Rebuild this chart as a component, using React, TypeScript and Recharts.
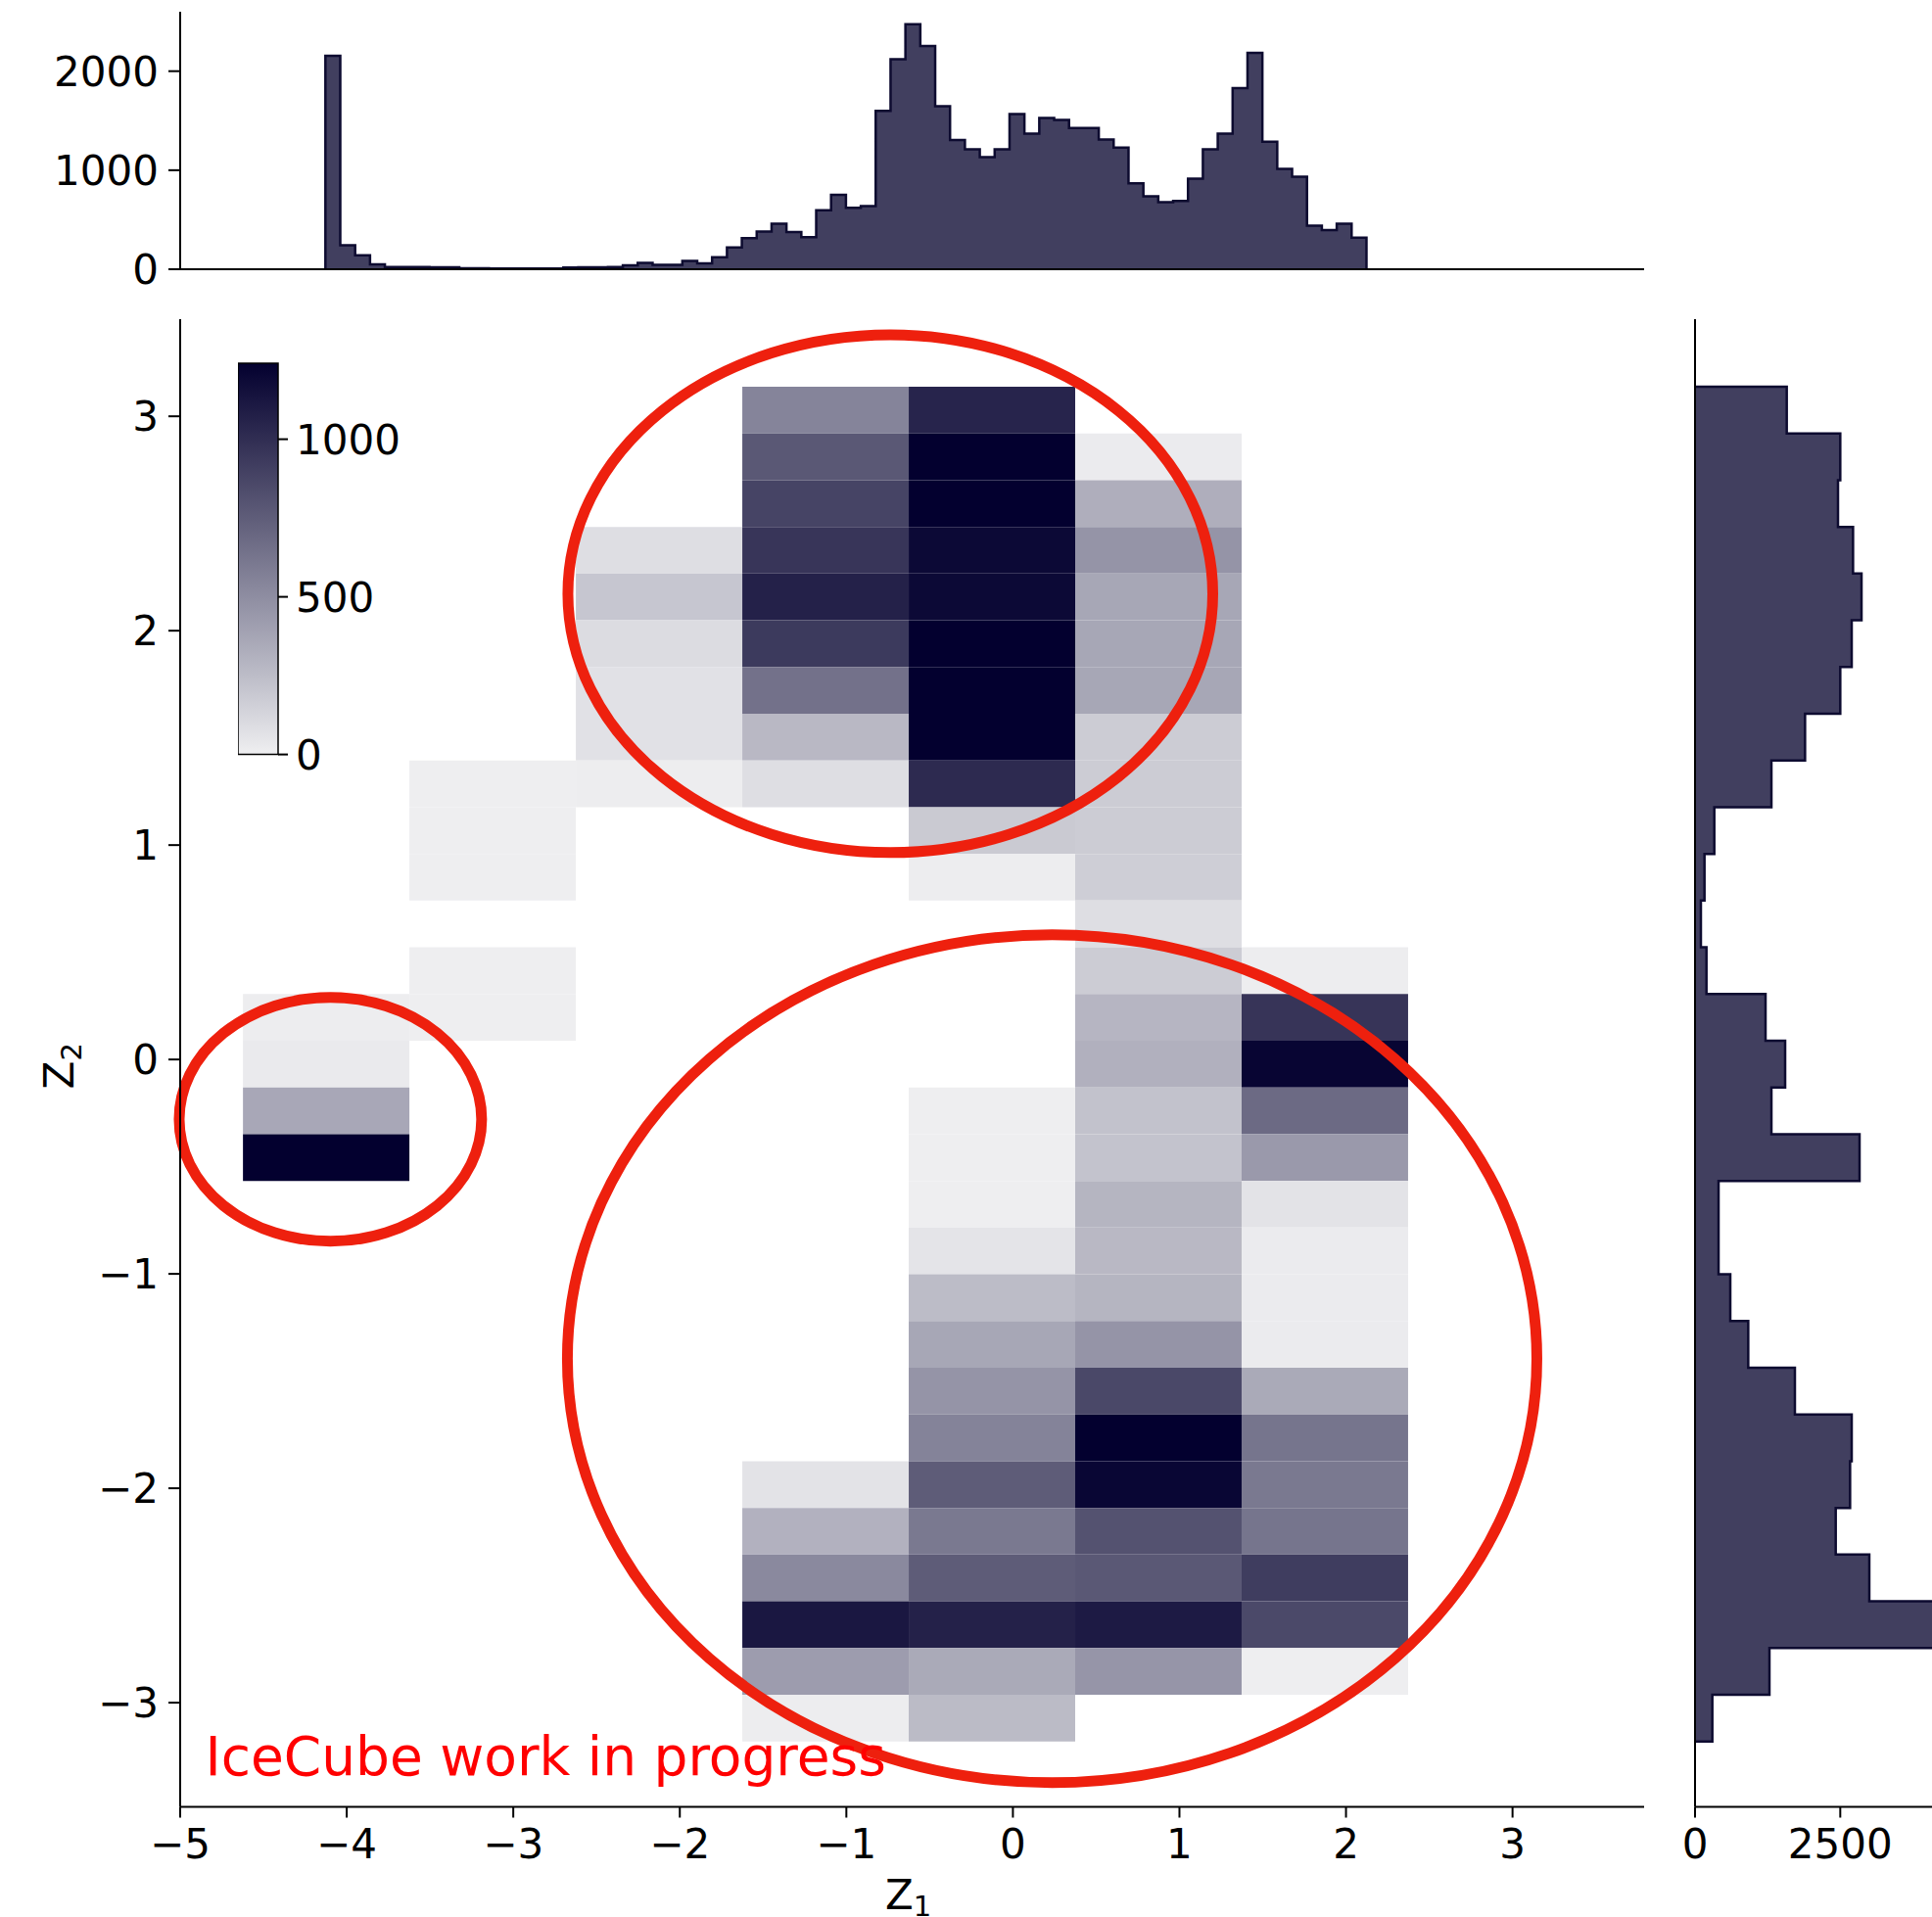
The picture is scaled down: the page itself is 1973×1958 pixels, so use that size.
import React from "react";
import { ComposedChart, Area, XAxis, YAxis, ReferenceArea, ReferenceDot } from "recharts";

const FONT = "DejaVu Sans";
const INK = "#000000";
const HIST_FILL = "#413f5f";
const HIST_EDGE = "#0d0b30";
const RED_RING = "#ee200e";
const RED_TEXT = "#ff0000";

// top marginal of z1 (70 equal bins)
const TOP_BIN_START = -4.128;
const TOP_BIN_WIDTH = 0.0893;
const topCounts = [
  2155, 241, 142, 50, 23, 23, 23, 20, 20, 10,
  10, 8, 8, 8, 8, 8, 18, 20, 20, 22,
  40, 65, 45, 45, 85, 60, 120, 220, 315, 380,
  460, 375, 325, 595, 752, 620, 637, 1600, 2120, 2475,
  2255, 1645, 1305, 1210, 1132, 1211, 1568, 1370, 1528, 1508,
  1426, 1426, 1310, 1228, 868, 736, 677, 690, 914, 1211,
  1370, 1828, 2185, 1287, 1013, 934, 439, 396, 459, 320,
];

// z2 rows, shared by the heatmap and the right marginal, listed top -> bottom
const ROW_TOP = 3.138;
const ROW_HEIGHT = 0.2179;
const rightCounts = [
  1579, 2500, 2461, 2720, 2866, 2697, 2500, 1894, 1315, 332,
  163, 101, 197, 1214, 1551, 1315, 2832, 405, 405, 607,
  916, 1719, 2697, 2669, 2422, 3000, 4400, 1281, 298,
];

// heatmap columns in z1
const COL_START = -4.623;
const COL_WIDTH = 0.9994;
const heatCol0 = [0, 0, 0, 0, 0, 0, 0, 0, 0, 0, 0, 0, 0, 10, 25, 362, 1300, 0, 0, 0, 0, 0, 0, 0, 0, 0, 0, 0, 0];
const heatCol1 = [0, 0, 0, 0, 0, 0, 0, 0, 5, 5, 5, 0, 5, 5, 0, 0, 0, 0, 0, 0, 0, 0, 0, 0, 0, 0, 0, 0, 0];
const heatCol2 = [0, 0, 0, 85, 202, 96, 69, 69, 10, 0, 0, 0, 0, 0, 0, 0, 0, 0, 0, 0, 0, 0, 0, 0, 0, 0, 0, 0, 0];
const heatCol3 = [548, 778, 884, 959, 1065, 937, 644, 272, 85, 0, 0, 0, 0, 0, 0, 0, 0, 0, 0, 0, 0, 0, 0, 58, 309, 522, 1118, 421, 10];
const heatCol4 = [1049, 1300, 1300, 1193, 1193, 1300, 1300, 1300, 1017, 186, 10, 0, 0, 0, 0, 5, 5, 5, 53, 256, 367, 463, 554, 756, 607, 756, 1065, 351, 261];
const heatCol5 = [0, 20, 325, 463, 367, 367, 367, 176, 176, 176, 165, 85, 176, 288, 315, 224, 220, 293, 272, 293, 463, 863, 1300, 1209, 810, 778, 1102, 458, 0];
const heatCol6 = [0, 0, 0, 0, 0, 0, 0, 0, 0, 0, 0, 0, 10, 964, 1215, 682, 437, 58, 20, 20, 20, 351, 628, 607, 628, 921, 858, 5, 0];
const heatCols = [heatCol0, heatCol1, heatCol2, heatCol3, heatCol4, heatCol5, heatCol6];

const z1Ticks = [-5, -4, -3, -2, -1, 0, 1, 2, 3];
const z2Ticks = [-3, -2, -1, 0, 1, 2, 3];
const topHistTicks = [0, 1000, 2000];
const rightHistTicks = [0, 2500];
const cbarTicks = [0, 500, 1000];
const CBAR_MAX = 1241;

const Z1_DOMAIN: [number, number] = [-5.0, 3.79];
const Z2_DOMAIN: [number, number] = [-3.486, 3.453];

// hand-drawn red rings, as z-ranges of their bounding boxes
const rings = [
  { z1: [-2.672, 1.2], z2: [0.965, 3.38] },
  { z1: [-5.006, -3.19], z2: [-0.848, 0.289] },
  { z1: [-2.675, 3.146], z2: [-3.373, 0.582] },
];
const NOTE = "IceCube work in progress";
const NOTE_AT = { z1: -4.85, z2: -3.337 };

const cmapStops: [number, string][] = [
  [0, "#efeff1"],
  [0.2, "#bdbdc8"],
  [0.4, "#8f8ea2"],
  [0.6, "#605e7a"],
  [0.8, "#322f54"],
  [1, "#03002f"],
];

const hexRgb = (h: string) => [1, 3, 5].map((i) => parseInt(h.slice(i, i + 2), 16));

function cmap(n: number) {
  const t = Math.max(0, Math.min(1, n / CBAR_MAX));
  for (let i = 1; i < cmapStops.length; i++) {
    const [t0, c0] = cmapStops[i - 1];
    const [t1, c1] = cmapStops[i];
    if (t <= t1) {
      const f = (t - t0) / (t1 - t0);
      const a = hexRgb(c0);
      const b = hexRgb(c1);
      const c = a.map((v, k) => Math.round(v + (b[k] - v) * f));
      return `rgb(${c[0]},${c[1]},${c[2]})`;
    }
  }
  return cmapStops[cmapStops.length - 1][1];
}

const fmt = (v: number) => (v < 0 ? `\u2212${-v}` : `${v}`);
const tickStyle = { fontSize: 42, fill: INK, fontFamily: FONT };
const lineStyle = { stroke: INK, strokeWidth: 2 };

const topData = [
  { z1: TOP_BIN_START, n: 0 },
  ...topCounts.map((n, i) => ({ z1: TOP_BIN_START + i * TOP_BIN_WIDTH, n })),
  { z1: TOP_BIN_START + topCounts.length * TOP_BIN_WIDTH, n: 0 },
];

const rightData = [
  { z2: ROW_TOP, n: 0 },
  ...rightCounts.map((n, i) => ({ z2: ROW_TOP - i * ROW_HEIGHT, n })),
  { z2: ROW_TOP - rightCounts.length * ROW_HEIGHT, n: 0 },
];

const cells = heatCols.flatMap((col, c) =>
  col.map((n, r) => ({ n, c, r })).filter((d) => d.n > 0)
);

function XLabel(props: any) {
  const vb = props.viewBox ?? { x: 184, y: 1545.5, width: 1495, height: 112.5 };
  return (
    <text x={vb.x + vb.width / 2 - 4} y={vb.y + 104} textAnchor="middle" fontFamily={FONT} fontSize={42} fill={INK}>
      Z<tspan fontSize={29} dy={7}>1</tspan>
    </text>
  );
}

function YLabel(props: any) {
  const vb = props.viewBox ?? { x: 0, y: 26, width: 184, height: 1519.5 };
  const cy = vb.y + vb.height / 2 + 3;
  return (
    <text x={75} y={cy} transform={`rotate(-90 75 ${cy})`} textAnchor="middle" fontFamily={FONT} fontSize={42} fill={INK}>
      Z<tspan fontSize={29} dy={8}>2</tspan>
    </text>
  );
}

export default function App() {
  return (
    <div style={{ position: "absolute", left: 0, top: 0, width: 1973, height: 1958, overflow: "hidden", background: "#fff" }}>
      {/* top marginal */}
      <div style={{ position: "absolute", left: 0, top: 0 }}>
        <ComposedChart width={1973} height={305} data={topData} margin={{ top: 12, right: 294, bottom: 0, left: 0 }}>
          <XAxis type="number" dataKey="z1" domain={Z1_DOMAIN} ticks={z1Ticks} tick={false} tickSize={11}
            height={30} axisLine={lineStyle} tickLine={lineStyle} interval={0} allowDataOverflow />
          <YAxis type="number" domain={[0, 2600]} ticks={topHistTicks} width={184} tick={tickStyle} tickSize={12}
            tickMargin={10} axisLine={lineStyle} tickLine={lineStyle} interval={0} allowDataOverflow />
          <Area type="stepAfter" dataKey="n" stroke={HIST_EDGE} strokeWidth={2.5} fill={HIST_FILL} fillOpacity={1}
            dot={false} activeDot={false} isAnimationActive={false} />
        </ComposedChart>
      </div>

      {/* joint histogram */}
      <div style={{ position: "absolute", left: 0, top: 300 }}>
        <ComposedChart width={1973} height={1658} margin={{ top: 26, right: 294, bottom: 0, left: 0 }}>
          <XAxis type="number" dataKey="z1" domain={Z1_DOMAIN} ticks={z1Ticks} tickFormatter={fmt} tick={tickStyle}
            tickSize={11} tickMargin={12} height={112.5} axisLine={lineStyle} tickLine={lineStyle} interval={0}
            allowDataOverflow label={XLabel} />
          <YAxis type="number" dataKey="z2" domain={Z2_DOMAIN} ticks={z2Ticks} tickFormatter={fmt} tick={tickStyle}
            tickSize={12} tickMargin={10} width={184} axisLine={lineStyle} tickLine={lineStyle} interval={0}
            allowDataOverflow label={YLabel} />
          {cells.map((d) => (
            <ReferenceArea key={`c${d.c}-${d.r}`}
              x1={COL_START + d.c * COL_WIDTH} x2={COL_START + (d.c + 1) * COL_WIDTH}
              y1={ROW_TOP - (d.r + 1) * ROW_HEIGHT} y2={ROW_TOP - d.r * ROW_HEIGHT}
              fill={cmap(d.n)} fillOpacity={1} stroke="none" />
          ))}
          <ReferenceDot x={NOTE_AT.z1} y={NOTE_AT.z2} r={0}
            shape={(p: any) => (
              <text x={p.cx} y={p.cy} fontFamily={FONT} fontSize={55} fill={RED_TEXT}>{NOTE}</text>
            )} />
          {rings.map((e, i) => (
            <ReferenceArea key={`ring${i}`} x1={e.z1[0]} x2={e.z1[1]} y1={e.z2[0]} y2={e.z2[1]} ifOverflow="visible"
              shape={(p: any) => (
                <ellipse cx={p.x + p.width / 2} cy={p.y + p.height / 2} rx={Math.abs(p.width) / 2}
                  ry={Math.abs(p.height) / 2} fill="none" stroke={RED_RING} strokeWidth={11} />
              )} />
          ))}
        </ComposedChart>
      </div>

      {/* right marginal */}
      <div style={{ position: "absolute", left: 1680, top: 300 }}>
        <ComposedChart layout="vertical" width={359.5} height={1658} data={rightData}
          margin={{ top: 26, right: 0, bottom: 0, left: 0 }}>
          <XAxis type="number" domain={[0, 5200]} ticks={rightHistTicks} tick={tickStyle} tickSize={11} tickMargin={12}
            height={112.5} axisLine={lineStyle} tickLine={lineStyle} interval={0} allowDataOverflow />
          <YAxis type="number" dataKey="z2" domain={Z2_DOMAIN} ticks={z2Ticks} tick={false} tickSize={11} width={51}
            axisLine={lineStyle} tickLine={lineStyle} interval={0} allowDataOverflow reversed />
          <Area type="stepBefore" dataKey="n" stroke={HIST_EDGE} strokeWidth={2.5} fill={HIST_FILL} fillOpacity={1}
            dot={false} activeDot={false} isAnimationActive={false} />
        </ComposedChart>
      </div>

      {/* colour bar */}
      <div style={{ position: "absolute", left: 243, top: 340 }}>
        <ComposedChart width={220} height={470} margin={{ top: 31, right: 59, bottom: 39.4, left: 0 }}>
          <defs>
            <linearGradient id="cbarGrad" x1="0" y1="1" x2="0" y2="0">
              {cmapStops.map(([t, c]) => (
                <stop key={t} offset={`${t * 100}%`} stopColor={c} />
              ))}
            </linearGradient>
          </defs>
          <XAxis type="number" dataKey="u" domain={[0, 1]} hide allowDataOverflow />
          <YAxis orientation="right" type="number" dataKey="v" domain={[0, CBAR_MAX]} ticks={cbarTicks} width={120}
            tick={tickStyle} tickSize={10} tickMargin={8} axisLine={false} tickLine={lineStyle} interval={0}
            allowDataOverflow />
          <ReferenceArea x1={0} x2={1} y1={0} y2={CBAR_MAX} fill="url(#cbarGrad)" fillOpacity={1}
            stroke={INK} strokeWidth={1.5} ifOverflow="visible" />
        </ComposedChart>
      </div>
    </div>
  );
}
